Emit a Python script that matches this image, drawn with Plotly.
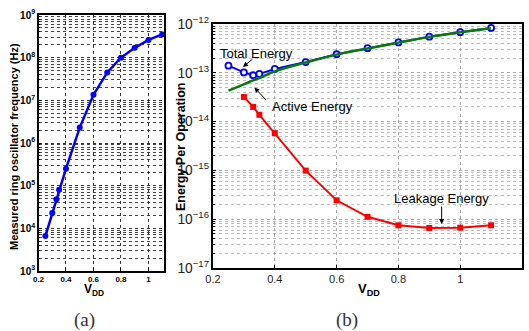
import plotly.graph_objects as go

# ---- data: panel (a) ring oscillator frequency ----
vdd_a = [0.25, 0.3, 0.33, 0.35, 0.4, 0.5, 0.6, 0.7, 0.8, 0.9, 1.0, 1.1]
freq_a = [6.6e3, 2.3e4, 4.8e4, 8.0e4, 2.5e5, 2.3e6, 1.35e7, 4.5e7, 1.0e8, 1.7e8, 2.6e8, 3.5e8]

# ---- data: panel (b) energy per operation ----
vdd_b = [0.25, 0.3, 0.33, 0.35, 0.4, 0.5, 0.6, 0.7, 0.8, 0.9, 1.0, 1.1]
total_e = [1.4e-13, 1.02e-13, 8.9e-14, 9.5e-14, 1.2e-13, 1.66e-13, 2.4e-13, 3.2e-13, 4.2e-13, 5.5e-13, 6.8e-13, 8.3e-13]
active_e = [4.3e-14, 5.8e-14, 7.0e-14, 7.8e-14, 1.07e-13, 1.62e-13, 2.36e-13, 3.15e-13, 4.15e-13, 5.45e-13, 6.75e-13, 8.2e-13]
vdd_leak = [0.3, 0.33, 0.35, 0.4, 0.5, 0.6, 0.7, 0.8, 0.9, 1.0, 1.1]
leak_e = [3.2e-14, 2.0e-14, 1.38e-14, 5.8e-15, 9.9e-16, 2.44e-16, 1.12e-16, 7.5e-17, 6.6e-17, 6.7e-17, 7.5e-17]

xticks_a = [0.2, 0.4, 0.6, 0.8, 1.0]
xtick_text_a = ["0.2", "0.4", "0.6", "0.8", "1"]

W, H = 529, 331
SANS = "Liberation Sans"

fig = go.Figure()

fig.add_trace(go.Scatter(x=vdd_a, y=freq_a, mode="lines+markers",
                         line=dict(color="#0000ff", width=2.5),
                         marker=dict(symbol="circle", size=6, color="#0000ff"),
                         xaxis="x", yaxis="y", showlegend=False))

fig.add_trace(go.Scatter(x=vdd_b, y=total_e, mode="lines+markers",
                         line=dict(color="#0000ff", width=2),
                         marker=dict(symbol="circle", size=6, color="white",
                                     line=dict(color="#0000ff", width=1.8)),
                         xaxis="x2", yaxis="y2", showlegend=False))
fig.add_trace(go.Scatter(x=vdd_b, y=active_e, mode="lines",
                         line=dict(color="#0a7a0a", width=2.5, shape="spline"),
                         xaxis="x2", yaxis="y2", showlegend=False))
fig.add_trace(go.Scatter(x=vdd_leak, y=leak_e, mode="lines+markers",
                         line=dict(color="#ff0000", width=2),
                         marker=dict(symbol="square", size=6, color="#ff0000"),
                         xaxis="x2", yaxis="y2", showlegend=False))

grid_a = dict(showgrid=True, gridcolor="#333333", griddash="dot", gridwidth=1)
grid_b = dict(showgrid=True, gridcolor="#aaaaaa", griddash="dot", gridwidth=1)
box = dict(showline=True, linecolor="black", linewidth=1.5, mirror=True,
           ticks="inside", ticklen=3, tickcolor="black", zeroline=False, automargin=False)

fig.update_layout(
    width=W, height=H,
    margin=dict(l=0, r=0, t=0, b=0),
    paper_bgcolor="white", plot_bgcolor="white",
    xaxis=dict(domain=[38.5 / W, 164 / W], range=[0.2, 1.113],
               tickvals=xticks_a, ticktext=xtick_text_a,
               tickfont=dict(family=SANS, size=8, color="black", weight="bold"),
               anchor="y", **box, **grid_a),
    yaxis=dict(domain=[1 - 271 / H, 1 - 15 / H], type="log", range=[3, 9], dtick=1,
               exponentformat="power",
               tickfont=dict(family=SANS, size=8, color="black", weight="bold"),
               minor=dict(showgrid=True, gridcolor="#444444", griddash="dot", dtick="D1",
                          ticks="inside", ticklen=2),
               anchor="x", **box, **grid_a),
    xaxis2=dict(domain=[213 / W, 522 / W], range=[0.2, 1.2], dtick=0.2,
                tickfont=dict(family=SANS, size=11, color="#222222"),
                anchor="y2", **box, **grid_b),
    yaxis2=dict(domain=[1 - 268 / H, 1 - 24 / H], type="log", range=[-17, -12], dtick=1,
                exponentformat="power",
                tickfont=dict(family=SANS, size=11, color="#222222"),
                minor=dict(showgrid=True, gridcolor="#bbbbbb", griddash="dot", dtick="D1",
                           ticks="inside", ticklen=2),
                anchor="x2", **box, **grid_b),
)

ann = []
P = dict(xref="paper", yref="paper", showarrow=False, xanchor="center", yanchor="middle")
# axis titles
ann.append(dict(text="<b>Measured ring oscillator frequency (Hz)</b>", x=14 / W, y=1 - 147 / H,
                textangle=-90, font=dict(family=SANS, size=11, color="black"), **P))
ann.append(dict(text="<b>V<sub>DD</sub></b>", x=94 / W, y=1 - 290 / H,
                font=dict(family=SANS, size=12, color="black"), **P))
ann.append(dict(text="(a)", x=84 / W, y=1 - 320 / H,
                font=dict(family="Liberation Serif", size=19, color="#333333"), **P))
ann.append(dict(text="<b>Energy Per Operation</b>", x=181 / W, y=1 - 147 / H,
                textangle=-90, font=dict(family=SANS, size=12.5, color="black"), **P))
ann.append(dict(text="<b>V<sub>DD</sub></b>", x=369 / W, y=1 - 289 / H,
                font=dict(family=SANS, size=13, color="black"), **P))
ann.append(dict(text="(b)", x=347 / W, y=1 - 320 / H,
                font=dict(family="Liberation Serif", size=19, color="#333333"), **P))
# series labels
lab = dict(family=SANS, size=13, color="black")
ann.append(dict(text="Total Energy", x=256 / W, y=1 - 53 / H, font=lab, **P))
ann.append(dict(text="Active Energy", x=312 / W, y=1 - 107 / H, font=lab, **P))
ann.append(dict(text="Leakage Energy", x=441 / W, y=1 - 198 / H, font=lab, **P))
# arrows
arrow = dict(showarrow=True, arrowhead=2, arrowsize=1, arrowwidth=1, arrowcolor="black",
             text="", xref="x2", yref="y2")
ann.append(dict(x=0.297, y=-12.88, ax=11, ay=-9, **arrow))
ann.append(dict(x=0.334, y=-13.30, ax=13, ay=14, **arrow))
ann.append(dict(x=0.94, y=-16.10, ax=0, ay=-19, **arrow))

fig.update_layout(annotations=ann)
fig.write_html("out.html", config={"displayModeBar": False},
               post_script="document.body.style.margin='0';document.body.style.overflow='hidden';")
